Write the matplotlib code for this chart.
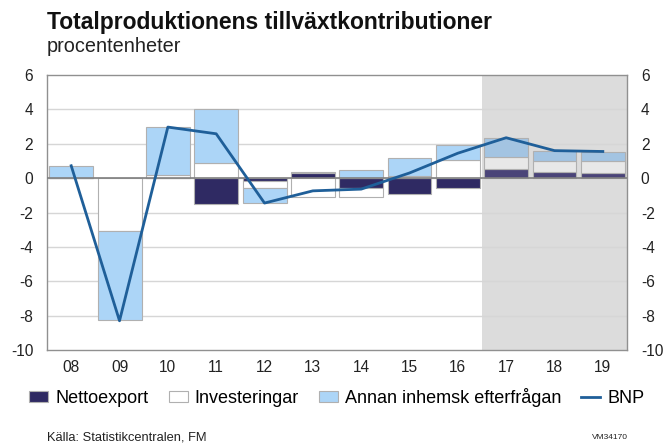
import matplotlib
matplotlib.use("Agg")
import matplotlib.pyplot as plt
import numpy as np
from matplotlib.patches import Patch
from matplotlib.lines import Line2D

plt.rcParams['font.family'] = ['Liberation Sans', 'DejaVu Sans']
plt.rcParams['axes.unicode_minus'] = False

years = ['08', '09', '10', '11', '12', '13', '14', '15', '16', '17', '18', '19']
nettoexport = [0.0, 0.0, 0.0, -1.5, -0.15, 0.28, -0.55, -0.9, -0.55, 0.55, 0.33, 0.27]
investeringar = [0.0, -3.05, 0.2, 0.9, -0.45, -1.1, -0.55, 0.15, 1.05, 0.7, 0.65, 0.7]
annan = [0.7, -5.2, 2.75, 3.15, -0.85, 0.05, 0.47, 1.0, 0.9, 1.1, 0.6, 0.55]
bnp = [0.72, -8.3, 2.97, 2.58, -1.45, -0.74, -0.64, 0.3, 1.45, 2.35, 1.6, 1.55]
forecast_start = 9  # index of first forecast year (17)

c_netto = '#2f2a63'
c_inv = '#ffffff'
c_annan = '#acd5f7'
c_netto_f = '#4a4478'
c_inv_f = '#e8e8e8'
c_annan_f = '#a3c4e2'
c_line = '#1f5f99'
c_edge = '#b0b0b0'

fig = plt.figure(figsize=(6.68, 4.43), dpi=100)
ax = fig.add_axes([0.0704, 0.2099, 0.8682, 0.6208])

x = np.arange(len(years))
ax.set_xlim(-0.5, len(years) - 0.5)
ax.set_ylim(-10, 6)

ax.axvspan(forecast_start - 0.5, len(years) - 0.5, color='#dcdcdc', zorder=0, lw=0)
for yv in range(-8, 6, 2):
    ax.axhline(yv, color='#d6d6d6', lw=1, zorder=0.5)

pos_base = np.zeros(len(years))
neg_base = np.zeros(len(years))
series = [(nettoexport, c_netto, c_netto_f), (investeringar, c_inv, c_inv_f), (annan, c_annan, c_annan_f)]
for vals, col, colf in series:
    vals = np.array(vals)
    bottoms = np.where(vals >= 0, pos_base, neg_base)
    colors = [colf if i >= forecast_start else col for i in range(len(years))]
    ax.bar(x, vals, bottom=bottoms, width=0.91, color=colors, edgecolor=c_edge, linewidth=0.8, zorder=2)
    pos_base = pos_base + np.where(vals >= 0, vals, 0)
    neg_base = neg_base + np.where(vals < 0, vals, 0)

ax.axhline(0, color='#808080', lw=1.2, zorder=3)
ax.plot(x, bnp, color=c_line, lw=2, zorder=4)

ax.set_yticks(range(-10, 7, 2))
ax.set_xticks(x)
ax.set_xticklabels(years)
ax.tick_params(axis='both', length=0, labelsize=11.2, colors='#222222')
ax.tick_params(axis='x', pad=7)
ax.tick_params(axis='y', labelright=True, right=False, pad=10)
for s in ax.spines.values():
    s.set_color('#909090')
    s.set_linewidth(1)

fig.text(0.0704, 0.935, 'Totalproduktionens tillväxtkontributioner', fontsize=16.5,
         fontweight='bold', ha='left', va='baseline', color='#111111')
fig.text(0.0704, 0.882, 'procentenheter', fontsize=14.3, ha='left', va='baseline', color='#222222')

handles = [Patch(facecolor=c_netto, edgecolor=c_edge, lw=0.8),
           Patch(facecolor=c_inv, edgecolor=c_edge, lw=0.8),
           Patch(facecolor=c_annan, edgecolor=c_edge, lw=0.8),
           Line2D([0], [0], color=c_line, lw=2)]
labels = ['Nettoexport', 'Investeringar', 'Annan inhemsk efterfrågan', 'BNP']
fig.legend(handles, labels, loc='center', bbox_to_anchor=(0.5045, 0.103), ncol=4, frameon=False,
           fontsize=13, handlelength=1.05, handleheight=0.5, handletextpad=0.4, columnspacing=1.1,
           borderpad=0, borderaxespad=0)

fig.text(0.0704, 0.0135, 'Källa: Statistikcentralen, FM', fontsize=9.3, ha='left', va='center', color='#222222')
fig.text(0.886, 0.0135, 'VM34170', fontsize=6, ha='left', va='center', color='#222222')

fig.savefig('out.png', dpi=100)
